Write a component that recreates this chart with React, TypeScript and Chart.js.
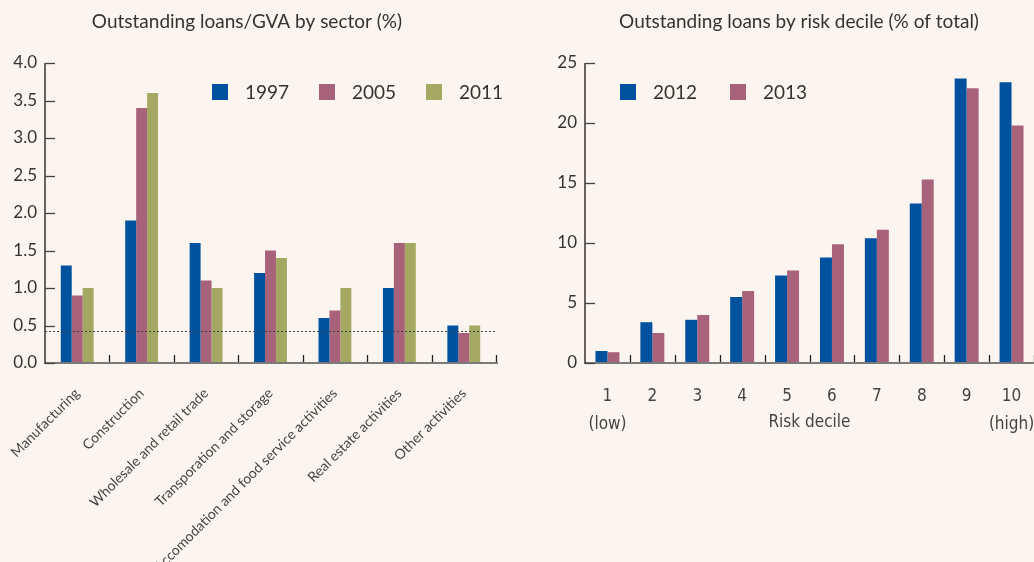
import React, { useEffect, useRef } from "react";
import { Chart, registerables } from "chart.js";

Chart.register(...registerables);

// ---------- Data: left chart ----------
const sectors = [
  "Manufacturing",
  "Construction",
  "Wholesale and retail trade",
  "Transporation and storage",
  "Accomodation and food service activities",
  "Real estate activities",
  "Other activities",
];
const sectorYears = ["1997", "2005", "2011"];
const loansGva1997 = [1.3, 1.9, 1.6, 1.2, 0.6, 1.0, 0.5];
const loansGva2005 = [0.9, 3.4, 1.1, 1.5, 0.7, 1.6, 0.4];
const loansGva2011 = [1.0, 3.6, 1.0, 1.4, 1.0, 1.6, 0.5];
const referenceLevel = 0.43;

// ---------- Data: right chart ----------
const decileLabels = [
  ["1", "(low)"],
  ["2", ""],
  ["3", ""],
  ["4", ""],
  ["5", ""],
  ["6", ""],
  ["7", ""],
  ["8", ""],
  ["9", ""],
  ["10", "(high)"],
];
const riskYears = ["2012", "2013"];
const share2012 = [1.0, 3.4, 3.6, 5.5, 7.3, 8.8, 10.4, 13.3, 23.7, 23.4];
const share2013 = [0.9, 2.5, 4.0, 6.0, 7.7, 9.9, 11.1, 15.3, 22.9, 19.8];

const leftTitle = "Outstanding loans/GVA by sector (%)";
const rightTitle = "Outstanding loans by risk decile (% of total)";
const rightAxisTitle = "Risk decile";

// ---------- Styles ----------
const BG = "#FCF5EF";
const BLUE = "#00529E";
const PINK = "#A8637A";
const GREEN = "#A3A862";
const TEXT = "#333333";
const SANS = 'Lato, "Open Sans", sans-serif';
const NARROW = '"Liberation Sans Narrow", "DejaVu Sans Condensed", "Roboto Condensed", sans-serif';

const decorPlugin = {
  id: "decor",
  afterDatasetsDraw(chart: any, _args: any, opts: any) {
    const { ctx, chartArea: ca, scales } = chart;
    const x = scales.x;
    const y = scales.y;
    ctx.save();

    // reference dotted line
    if (opts.refLine !== undefined && opts.refLine !== null) {
      const py = Math.round(y.getPixelForValue(opts.refLine)) + 0.5;
      ctx.setLineDash([2, 2]);
      ctx.strokeStyle = "#444";
      ctx.lineWidth = 1;
      ctx.beginPath();
      ctx.moveTo(ca.left, py);
      ctx.lineTo(ca.right, py);
      ctx.stroke();
      ctx.setLineDash([]);
    }

    // x axis line
    ctx.strokeStyle = "#7a7a7a";
    ctx.lineWidth = 2;
    ctx.beginPath();
    ctx.moveTo(ca.left, ca.bottom);
    ctx.lineTo(ca.right + 2, ca.bottom);
    ctx.stroke();

    // category boundary ticks (pointing up)
    const n = chart.data.labels.length;
    ctx.strokeStyle = "#222";
    ctx.lineWidth = 1.3;
    for (let i = 1; i <= n; i++) {
      const px = Math.round(x.getPixelForValue(i - 0.5)) + 0.5;
      ctx.beginPath();
      ctx.moveTo(px, ca.bottom - 1);
      ctx.lineTo(px, ca.bottom - 8);
      ctx.stroke();
    }

    // y axis line
    ctx.strokeStyle = "#333";
    ctx.lineWidth = 1.5;
    ctx.beginPath();
    ctx.moveTo(ca.left, ca.top);
    ctx.lineTo(ca.left, ca.bottom + 1);
    ctx.stroke();

    // y ticks (pointing right)
    ctx.lineWidth = 1.3;
    ctx.strokeStyle = "#444";
    for (const t of y.ticks) {
      const py = Math.round(y.getPixelForValue(t.value)) + 0.5;
      ctx.beginPath();
      ctx.moveTo(ca.left, py);
      ctx.lineTo(ca.left + 10, py);
      ctx.stroke();
    }
    ctx.restore();
  },
  afterDraw(chart: any, _args: any, opts: any) {
    const { ctx, chartArea: ca } = chart;
    ctx.save();
    ctx.fillStyle = TEXT;
    ctx.textBaseline = "middle";

    // title
    if (opts.title) {
      ctx.font = `19px ${SANS}`;
      ctx.textAlign = "center";
      ctx.fillText(opts.title.text, opts.title.x, opts.title.y);
    }

    // legend
    if (opts.legend) {
      const { x0, y0, spacing, box, gap } = opts.legend;
      ctx.font = `19px ${SANS}`;
      ctx.textAlign = "left";
      chart.data.datasets.forEach((ds: any, i: number) => {
        const lx = x0 + i * spacing;
        ctx.fillStyle = ds.backgroundColor;
        ctx.fillRect(lx, y0, box, box);
        ctx.fillStyle = TEXT;
        ctx.fillText(ds.label, lx + gap, y0 + box / 2 + 1);
      });
    }

    // axis title
    if (opts.axisTitle) {
      ctx.font = `17px ${NARROW}`;
      ctx.textAlign = "center";
      ctx.fillStyle = "#444";
      ctx.fillText(opts.axisTitle.text, (ca.left + ca.right) / 2, opts.axisTitle.y);
    }
    ctx.restore();
  },
};

function LeftChart() {
  const ref = useRef<HTMLCanvasElement>(null);
  useEffect(() => {
    if (!ref.current) return;
    const chart = new Chart(ref.current, {
      type: "bar",
      data: {
        labels: sectors,
        datasets: [
          { label: sectorYears[0], data: loansGva1997, backgroundColor: BLUE },
          { label: sectorYears[1], data: loansGva2005, backgroundColor: PINK },
          { label: sectorYears[2], data: loansGva2011, backgroundColor: GREEN },
        ],
      },
      plugins: [decorPlugin as any],
      options: {
        responsive: false,
        animation: false,
        datasets: { bar: { categoryPercentage: 0.51, barPercentage: 1 } },
        layout: { padding: { left: 0, top: 63, right: 24, bottom: 0 } },
        plugins: {
          legend: { display: false },
          title: { display: false },
          tooltip: { enabled: false },
          decor: {
            title: { text: leftTitle, x: 247, y: 22 },
            legend: { x0: 212, y0: 84, spacing: 107, box: 16, gap: 33 },
            refLine: referenceLevel,
          },
        } as any,
        scales: {
          x: {
            grid: { display: false, drawTicks: false },
            border: { display: false },
            ticks: {
              autoSkip: false,
              maxRotation: 45,
              minRotation: 45,
              padding: 22,
              color: "#444",
              font: { family: SANS, size: 14 },
            },
            afterFit(s: any) {
              s.height = 199;
              s.paddingLeft = 0;
              s.paddingRight = 0;
            },
          },
          y: {
            min: 0,
            max: 4,
            grid: { display: false, drawTicks: false },
            border: { display: false },
            ticks: {
              stepSize: 0.5,
              padding: 8,
              color: TEXT,
              font: { family: SANS, size: 17 },
              callback: (v: any) => Number(v).toFixed(1),
            },
            afterFit(s: any) {
              s.width = 45;
              s.paddingTop = 0;
              s.paddingBottom = 0;
            },
          },
        },
      },
    });
    return () => chart.destroy();
  }, []);
  return <canvas ref={ref} width={520} height={562} />;
}

function RightChart() {
  const ref = useRef<HTMLCanvasElement>(null);
  useEffect(() => {
    if (!ref.current) return;
    const chart = new Chart(ref.current, {
      type: "bar",
      data: {
        labels: decileLabels as any,
        datasets: [
          { label: riskYears[0], data: share2012, backgroundColor: BLUE },
          { label: riskYears[1], data: share2013, backgroundColor: PINK },
        ],
      },
      plugins: [decorPlugin as any],
      options: {
        responsive: false,
        animation: false,
        datasets: { bar: { categoryPercentage: 0.534, barPercentage: 1 } },
        layout: { padding: { left: 0, top: 63, right: 0, bottom: 0 } },
        plugins: {
          legend: { display: false },
          title: { display: false },
          tooltip: { enabled: false },
          decor: {
            title: { text: rightTitle, x: 279, y: 22 },
            legend: { x0: 100, y0: 84, spacing: 110, box: 16, gap: 33 },
            axisTitle: { text: rightAxisTitle, y: 423 },
          },
        } as any,
        scales: {
          x: {
            grid: { display: false, drawTicks: false },
            border: { display: false },
            ticks: {
              autoSkip: false,
              maxRotation: 0,
              minRotation: 0,
              padding: 20,
              color: "#444",
              font: { family: NARROW, size: 17, lineHeight: 1.65 },
            },
            afterFit(s: any) {
              s.height = 199;
              s.paddingLeft = 0;
              s.paddingRight = 0;
            },
          },
          y: {
            min: 0,
            max: 25,
            grid: { display: false, drawTicks: false },
            border: { display: false },
            ticks: {
              stepSize: 5,
              padding: 8,
              color: TEXT,
              font: { family: SANS, size: 17 },
            },
            afterFit(s: any) {
              s.width = 65;
              s.paddingTop = 0;
              s.paddingBottom = 0;
            },
          },
        },
      },
    });
    return () => chart.destroy();
  }, []);
  return <canvas ref={ref} width={514} height={562} />;
}

export default function App() {
  return (
    <div
      style={{
        position: "absolute",
        left: 0,
        top: 0,
        width: 1034,
        height: 562,
        background: BG,
        overflow: "hidden",
      }}
    >
      <div style={{ position: "absolute", left: 0, top: 0, width: 520, height: 562 }}>
        <LeftChart />
      </div>
      <div style={{ position: "absolute", left: 520, top: 0, width: 514, height: 562 }}>
        <RightChart />
      </div>
    </div>
  );
}
